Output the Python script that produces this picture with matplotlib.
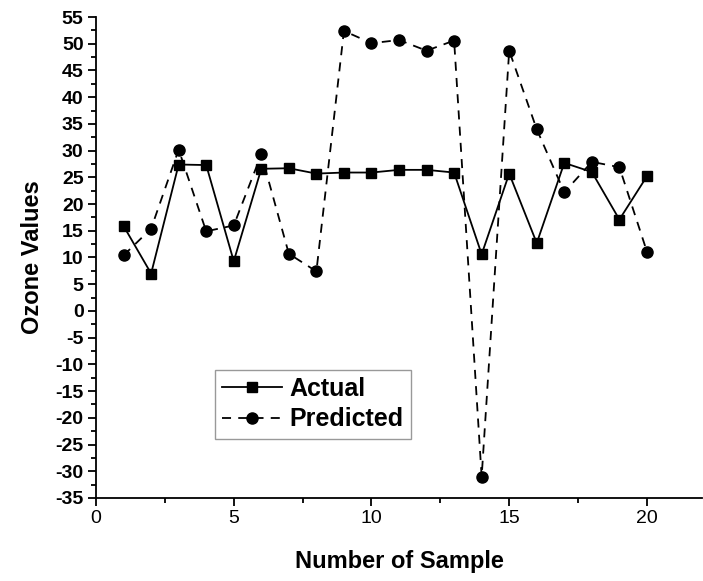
import numpy as np
import matplotlib
matplotlib.use("Agg")
import matplotlib.pyplot as plt
from matplotlib.ticker import MultipleLocator

plt.rcParams['font.family'] = ['Liberation Sans', 'DejaVu Sans']
plt.rcParams['axes.unicode_minus'] = False

# sample numbers
samples = np.arange(1, 21)

# actual ozone values
actual = [15.9, 7.0, 27.4, 27.3, 9.3, 26.6, 26.7, 25.7, 25.9, 25.9,
          26.4, 26.4, 25.9, 10.6, 25.7, 12.7, 27.7, 26.0, 17.1, 25.2]

# predicted ozone values
predicted = [10.4, 15.4, 30.2, 14.9, 16.0, 29.3, 10.7, 7.4, 52.4, 50.1,
             50.7, 48.7, 50.6, -31.0, 48.7, 34.0, 22.2, 27.9, 26.9, 11.1]

fig = plt.figure(figsize=(7.03, 5.81), dpi=100)
ax = fig.add_axes([0.1366, 0.1429, 0.8620, 0.8278])

ax.plot(samples, actual, color='black', linestyle='-', linewidth=1.3,
        marker='s', markersize=7.5, label='Actual')
ax.plot(samples, predicted, color='black', linestyle=(0, (5, 4)), linewidth=1.3,
        marker='o', markersize=8, label='Predicted')

ax.set_xlim(0, 22)
ax.set_ylim(-35, 55)
ax.xaxis.set_major_locator(MultipleLocator(5))
ax.xaxis.set_minor_locator(MultipleLocator(2.5))
ax.yaxis.set_major_locator(MultipleLocator(5))
ax.yaxis.set_minor_locator(MultipleLocator(2.5))

ax.spines['top'].set_visible(False)
ax.spines['right'].set_visible(False)
ax.spines['left'].set_linewidth(1.3)
ax.spines['bottom'].set_linewidth(1.3)

ax.tick_params(axis='both', which='major', direction='out', length=6, width=1.3,
               labelsize=14, pad=3)
ax.tick_params(axis='both', which='minor', direction='out', length=3.5, width=1.3)
for lbl in ax.get_yticklabels():
    lbl.set_fontweight('bold')

ax.set_xlabel('Number of Sample', fontsize=17, fontweight='bold', labelpad=16)
ax.set_ylabel('Ozone Values', fontsize=17, fontweight='bold', labelpad=8)

leg = ax.legend(loc='upper left', bbox_to_anchor=(0.196, 0.267),
                prop={'weight': 'bold', 'size': 18}, frameon=True, fancybox=False,
                edgecolor='gray', handlelength=2.4, borderpad=0.3,
                labelspacing=0.25, handletextpad=0.3, borderaxespad=0)
leg.get_frame().set_linewidth(1.0)

fig.savefig('out.png', dpi=100)
